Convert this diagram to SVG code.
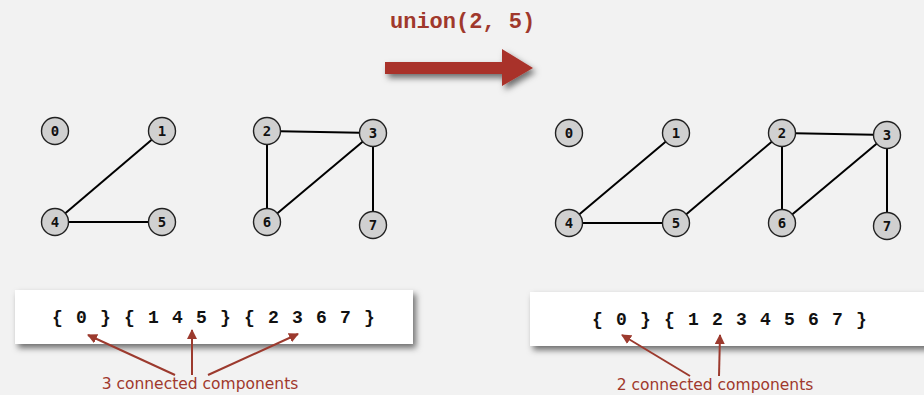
<svg xmlns="http://www.w3.org/2000/svg" width="924" height="395" viewBox="0 0 924 395">
  <style>
    .edge { stroke: #000; stroke-width: 2; fill: none; }
    .node circle { fill: #d0d0d0; stroke: #222; stroke-width: 1.4; }
    .node text { font-family: "DejaVu Sans Mono", monospace; font-weight: bold; font-size: 14px; fill: #111; text-anchor: middle; }
    .set { font-family: "Liberation Mono", monospace; font-weight: bold; font-size: 18px; letter-spacing: 1.2px; fill: #111; text-anchor: middle; }
    .note { font-family: "DejaVu Sans", "Open Sans", sans-serif; font-size: 15.5px; fill: #a0382c; text-anchor: middle; }
    .call { font-family: "Liberation Mono", monospace; font-weight: bold; font-size: 22px; fill: #a0382c; }
    .pointer { stroke: #9c3a2e; stroke-width: 2; fill: none; marker-end: url(#head); }
  </style>
  <defs>
    <marker id="head" viewBox="0 0 10 10" refX="9" refY="5" markerWidth="5" markerHeight="5" orient="auto">
      <path d="M0,0 L10,5 L0,10 Z" fill="#9c3a2e"/>
    </marker>
    <filter id="shadow" x="-10%" y="-30%" width="120%" height="170%">
      <feDropShadow dx="3" dy="4" stdDeviation="3" flood-color="#000" flood-opacity="0.55"/>
    </filter>
  </defs>

  <rect width="924" height="395" fill="#f2f2f2"/>

  <!-- operation label and big arrow -->
  <g id="operation">
    <text class="call" x="390" y="28">union(2, 5)</text>
    <path d="M385,62 L502,62 L502,49 L533,68 L502,86 L502,74 L385,74 Z" fill="#a9322a" filter="url(#shadow)"/>
  </g>

  <!-- connectors -->
  <g id="edges">
    <!-- before -->
    <line class="edge" x1="55" y1="222" x2="162" y2="131"/>
    <line class="edge" x1="55" y1="222" x2="162" y2="222"/>
    <line class="edge" x1="267" y1="131" x2="373" y2="133"/>
    <line class="edge" x1="267" y1="131" x2="267" y2="222"/>
    <line class="edge" x1="373" y1="133" x2="267" y2="222"/>
    <line class="edge" x1="373" y1="133" x2="373" y2="225"/>
    <!-- after -->
    <line class="edge" x1="569" y1="223" x2="676" y2="133"/>
    <line class="edge" x1="569" y1="223" x2="676" y2="223"/>
    <line class="edge" x1="676" y1="223" x2="782" y2="133"/>
    <line class="edge" x1="782" y1="133" x2="887" y2="135"/>
    <line class="edge" x1="782" y1="133" x2="782" y2="223"/>
    <line class="edge" x1="887" y1="135" x2="782" y2="223"/>
    <line class="edge" x1="887" y1="135" x2="887" y2="226"/>
  </g>

  <!-- nodes before union -->
  <g id="a0" class="node"><circle cx="55" cy="131" r="13.5"/><text x="55" y="136">0</text></g>
  <g id="a1" class="node"><circle cx="162" cy="131" r="13.5"/><text x="162" y="136">1</text></g>
  <g id="a4" class="node"><circle cx="55" cy="222" r="13.5"/><text x="55" y="227">4</text></g>
  <g id="a5" class="node"><circle cx="162" cy="222" r="13.5"/><text x="162" y="227">5</text></g>
  <g id="a2" class="node"><circle cx="267" cy="131" r="13.5"/><text x="267" y="136">2</text></g>
  <g id="a3" class="node"><circle cx="373" cy="133" r="13.5"/><text x="373" y="138">3</text></g>
  <g id="a6" class="node"><circle cx="267" cy="222" r="13.5"/><text x="267" y="227">6</text></g>
  <g id="a7" class="node"><circle cx="373" cy="225" r="13.5"/><text x="373" y="230">7</text></g>

  <!-- nodes after union -->
  <g id="b0" class="node"><circle cx="569" cy="133" r="13.5"/><text x="569" y="138">0</text></g>
  <g id="b1" class="node"><circle cx="676" cy="133" r="13.5"/><text x="676" y="138">1</text></g>
  <g id="b4" class="node"><circle cx="569" cy="223" r="13.5"/><text x="569" y="228">4</text></g>
  <g id="b5" class="node"><circle cx="676" cy="223" r="13.5"/><text x="676" y="228">5</text></g>
  <g id="b2" class="node"><circle cx="782" cy="133" r="13.5"/><text x="782" y="138">2</text></g>
  <g id="b3" class="node"><circle cx="887" cy="135" r="13.5"/><text x="887" y="140">3</text></g>
  <g id="b6" class="node"><circle cx="782" cy="223" r="13.5"/><text x="782" y="228">6</text></g>
  <g id="b7" class="node"><circle cx="887" cy="226" r="13.5"/><text x="887" y="231">7</text></g>

  <!-- component sets -->
  <g id="set-before">
    <rect x="15" y="290" width="398" height="54" fill="#fff" filter="url(#shadow)"/>
    <text class="set" x="214" y="323">{ 0 } { 1 4 5 } { 2 3 6 7 }</text>
  </g>
  <g id="set-after">
    <rect x="530" y="292" width="400" height="54" fill="#fff" filter="url(#shadow)"/>
    <text class="set" x="730" y="325">{ 0 } { 1 2 3 4 5 6 7 }</text>
  </g>

  <!-- annotations -->
  <g id="note-before">
    <line class="pointer" x1="175" y1="375" x2="88" y2="335"/>
    <line class="pointer" x1="192" y1="375" x2="192" y2="330"/>
    <line class="pointer" x1="208" y1="375" x2="298" y2="334"/>
    <text class="note" x="200" y="389">3 connected components</text>
  </g>
  <g id="note-after">
    <line class="pointer" x1="690" y1="376" x2="622" y2="335"/>
    <line class="pointer" x1="719" y1="376" x2="720" y2="335"/>
    <text class="note" x="715" y="390">2 connected components</text>
  </g>
</svg>
